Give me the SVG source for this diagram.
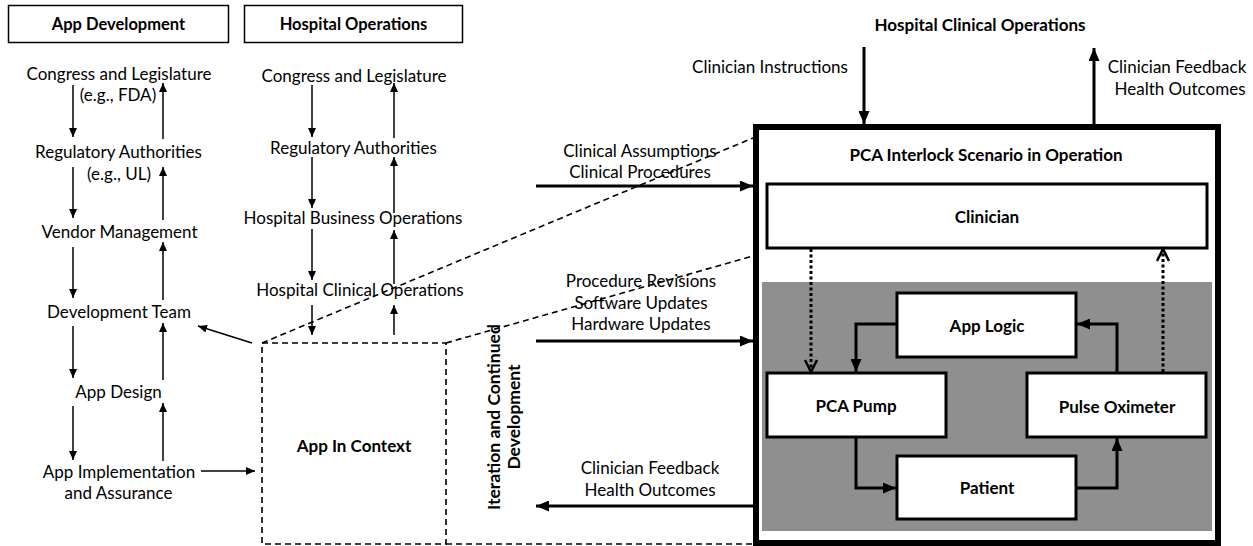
<svg xmlns="http://www.w3.org/2000/svg" width="1253" height="546" viewBox="0 0 1253 546">
  <style>
    text { font-family: Lato, "Liberation Sans", sans-serif; fill: #000; }
    .lbl { font-size: 17px; text-anchor: middle; }
    .hdr { font-size: 16.5px; font-weight: bold; text-anchor: middle; }
    .bold { font-size: 17px; font-weight: bold; text-anchor: middle; }
    .vert { font-size: 17.5px; font-weight: bold; text-anchor: middle; }
    .box { fill: #fff; stroke: #000; stroke-width: 1.5; }
    .node { fill: #fff; stroke: #000; stroke-width: 3; }
    .thin { fill: none; stroke: #000; stroke-width: 1.5; marker-end: url(#ah-s); }
    .thick { fill: none; stroke: #000; stroke-width: 3; marker-end: url(#ah-l); }
    .dash { fill: none; stroke: #000; stroke-width: 1.6; stroke-dasharray: 6 4; }
    .dot { fill: none; stroke: #000; stroke-width: 3; stroke-dasharray: 3 2.5; marker-end: url(#ah-open); }
  </style>
  <defs>
    <marker id="ah-s" markerUnits="userSpaceOnUse" markerWidth="9" markerHeight="8" refX="9" refY="4" orient="auto">
      <path d="M0,0 L9,4 L0,8 z" fill="#000"/>
    </marker>
    <marker id="ah-l" markerUnits="userSpaceOnUse" markerWidth="13" markerHeight="11" refX="13" refY="5.5" orient="auto">
      <path d="M0,0 L13,5.5 L0,11 z" fill="#000"/>
    </marker>
    <marker id="ah-open" markerUnits="userSpaceOnUse" markerWidth="16" markerHeight="16" refX="13" refY="8" orient="auto">
      <path d="M1,2 L13,8 L1,14" fill="none" stroke="#000" stroke-width="2.5"/>
    </marker>
  </defs>

  <!-- column headers -->
  <g id="hdr-app-development">
    <rect class="box" x="8.5" y="5.5" width="220" height="37"/>
    <text class="hdr" x="118.5" y="30">App Development</text>
  </g>
  <g id="hdr-hospital-operations">
    <rect class="box" x="244.5" y="5.5" width="218" height="37"/>
    <text class="hdr" x="353.5" y="30">Hospital Operations</text>
  </g>

  <!-- app development chain -->
  <g id="dev-congress">
    <text class="lbl" x="119" y="80">Congress and Legislature</text>
    <text class="lbl" x="118" y="101">(e.g., FDA)</text>
  </g>
  <g id="dev-regulatory">
    <text class="lbl" x="118.5" y="158">Regulatory Authorities</text>
    <text class="lbl" x="119" y="180">(e.g., UL)</text>
  </g>
  <g id="dev-vendor"><text class="lbl" x="119.5" y="238">Vendor Management</text></g>
  <g id="dev-team"><text class="lbl" x="119" y="318">Development Team</text></g>
  <g id="dev-design"><text class="lbl" x="118.5" y="398">App Design</text></g>
  <g id="dev-implementation">
    <text class="lbl" x="119" y="478">App Implementation</text>
    <text class="lbl" x="118.5" y="499">and Assurance</text>
  </g>

  <!-- hospital operations chain -->
  <g id="ops-congress"><text class="lbl" x="354" y="82">Congress and Legislature</text></g>
  <g id="ops-regulatory"><text class="lbl" x="353.5" y="154">Regulatory Authorities</text></g>
  <g id="ops-business"><text class="lbl" x="353" y="224">Hospital Business Operations</text></g>
  <g id="ops-clinical"><text class="lbl" x="360" y="296">Hospital Clinical Operations</text></g>

  <!-- app in context -->
  <g id="app-in-context">
    <rect x="262" y="343" width="184" height="201" fill="none" stroke="#000" stroke-width="1.6" stroke-dasharray="6 4"/>
    <text class="bold" x="354" y="452">App In Context</text>
  </g>

  <g id="iteration-label">
    <text class="vert" transform="translate(500,417) rotate(-90)">Iteration and Continued</text>
    <text class="vert" transform="translate(520,417) rotate(-90)">Development</text>
  </g>

  <!-- flow labels -->
  <g id="flow-labels">
    <text class="lbl" x="640" y="157">Clinical Assumptions</text>
    <text class="lbl" x="640" y="178">Clinical Procedures</text>
    <text class="lbl" x="641" y="287">Procedure Revisions</text>
    <text class="lbl" x="641" y="309">Software Updates</text>
    <text class="lbl" x="641" y="330">Hardware Updates</text>
    <text class="lbl" x="650" y="474">Clinician Feedback</text>
    <text class="lbl" x="650" y="496">Health Outcomes</text>
    <text class="bold" x="980" y="31">Hospital Clinical Operations</text>
    <text class="lbl" x="770" y="73">Clinician Instructions</text>
    <text class="lbl" x="1177" y="73">Clinician Feedback</text>
    <text class="lbl" x="1180" y="95">Health Outcomes</text>
  </g>

  <!-- scenario container -->
  <g id="scenario">
    <rect x="756" y="127" width="462" height="416" fill="#fff" stroke="#000" stroke-width="6"/>
    <text class="bold" x="986" y="161">PCA Interlock Scenario in Operation</text>
    <rect x="762" y="282" width="450" height="249" fill="#8f8f8f"/>
  </g>
  <g id="clinician">
    <rect class="node" x="767" y="184" width="440" height="64"/>
    <text class="bold" x="987" y="223">Clinician</text>
  </g>
  <g id="app-logic">
    <rect class="node" x="897" y="293" width="179" height="64"/>
    <text class="bold" x="987" y="332">App Logic</text>
  </g>
  <g id="pca-pump">
    <rect class="node" x="767" y="373" width="179" height="64"/>
    <text class="bold" x="856" y="412">PCA Pump</text>
  </g>
  <g id="pulse-oximeter">
    <rect class="node" x="1027" y="373" width="179" height="64"/>
    <text class="bold" x="1117" y="413">Pulse Oximeter</text>
  </g>
  <g id="patient">
    <rect class="node" x="897" y="456" width="179" height="63"/>
    <text class="bold" x="987" y="494">Patient</text>
  </g>

  <!-- connectors -->
  <g id="connectors">
    <!-- app development: down and up -->
    <line class="thin" x1="73" y1="85" x2="73" y2="137"/>
    <line class="thin" x1="163" y1="139" x2="163" y2="83"/>
    <line class="thin" x1="73" y1="167" x2="73" y2="218"/>
    <line class="thin" x1="163" y1="220" x2="163" y2="167"/>
    <line class="thin" x1="73" y1="247" x2="73" y2="298"/>
    <line class="thin" x1="163" y1="300" x2="163" y2="242"/>
    <line class="thin" x1="73" y1="326" x2="73" y2="378"/>
    <line class="thin" x1="163" y1="380" x2="163" y2="323"/>
    <line class="thin" x1="73" y1="406" x2="73" y2="460"/>
    <line class="thin" x1="163" y1="461" x2="163" y2="403"/>
    <line class="thin" x1="201" y1="471" x2="255" y2="471"/>
    <line class="thin" x1="252" y1="343" x2="198" y2="326"/>

    <!-- hospital operations: down and up -->
    <line class="thin" x1="312" y1="85" x2="312" y2="137"/>
    <line class="thin" x1="394" y1="138" x2="394" y2="83"/>
    <line class="thin" x1="312" y1="157" x2="312" y2="208"/>
    <line class="thin" x1="394" y1="213" x2="394" y2="157"/>
    <line class="thin" x1="312" y1="229" x2="312" y2="280"/>
    <line class="thin" x1="394" y1="284" x2="394" y2="230"/>
    <line class="thin" x1="312" y1="305" x2="312" y2="335"/>
    <line class="thin" x1="394" y1="335" x2="394" y2="305"/>

    <!-- perspective guides -->
    <line class="dash" x1="262" y1="343" x2="753" y2="138"/>
    <line class="dash" x1="446" y1="343" x2="753" y2="256"/>
    <line class="dash" x1="446" y1="544" x2="753" y2="544"/>

    <!-- flows to and from the scenario -->
    <line class="thick" x1="536" y1="186" x2="753" y2="186"/>
    <line class="thick" x1="536" y1="341" x2="753" y2="341"/>
    <line class="thick" x1="753" y1="506" x2="536" y2="506"/>
    <line class="thick" x1="864" y1="47" x2="864" y2="124"/>
    <line class="thick" x1="1094" y1="124" x2="1094" y2="48"/>

    <!-- scenario loop -->
    <path class="thick" d="M897,324 H856 V372"/>
    <path class="thick" d="M856,437 V488 H896"/>
    <path class="thick" d="M1076,488 H1117 V438"/>
    <path class="thick" d="M1117,373 V324 H1077"/>
    <line class="dot" x1="811" y1="249" x2="811" y2="372"/>
    <line class="dot" x1="1163" y1="372" x2="1163" y2="249"/>
  </g>
</svg>
